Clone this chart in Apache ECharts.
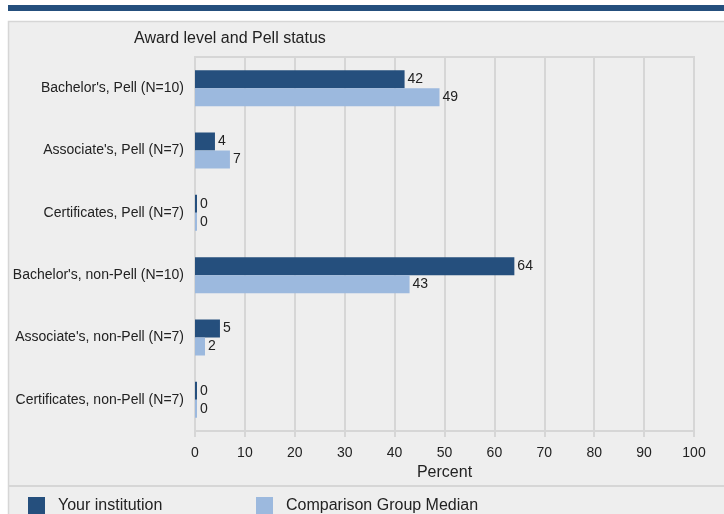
<!DOCTYPE html>
<html>
<head>
<meta charset="utf-8">
<script src="https://cdn.jsdelivr.net/npm/echarts@6/dist/echarts.min.js"></script>
<style>
html,body{margin:0;padding:0;background:#fff;}
#c{width:724px;height:514px;}
</style>
</head>
<body>
<div id="c"></div>
<script>
const categories = [
  "Bachelor's, Pell (N=10)",
  "Associate's, Pell (N=7)",
  "Certificates, Pell (N=7)",
  "Bachelor's, non-Pell (N=10)",
  "Associate's, non-Pell (N=7)",
  "Certificates, non-Pell (N=7)"
];
const yourInstitution = [42, 4, 0, 64, 5, 0];
const comparisonMedian = [49, 7, 0, 43, 2, 0];
const xTicks = [0, 10, 20, 30, 40, 50, 60, 70, 80, 90, 100];

const DARK = '#254f7d';
const LIGHT = '#9cb9de';
const FONT = '"Liberation Sans", Arial, sans-serif';
const TXT = '#222';

const chart = echarts.init(document.getElementById('c'), null, {renderer: 'canvas'});
const labelCfg = {show: true, position: 'right', distance: 3, color: TXT, fontSize: 14, fontFamily: FONT};

chart.setOption({
  backgroundColor: '#ffffff',
  animation: false,
  graphic: [
    {type: 'rect', z: -10, shape: {x: 8, y: 5, width: 716, height: 6}, style: {fill: DARK}},
    {type: 'rect', z: -10, shape: {x: 8.5, y: 21.5, width: 720, height: 500}, style: {fill: '#eeeeee', stroke: '#d6d6d6', lineWidth: 1.5}},
    {type: 'line', z: -9, shape: {x1: 8, y1: 486, x2: 724, y2: 486}, style: {stroke: '#d6d6d6', lineWidth: 2}},
    {type: 'text', left: 134, top: 31, style: {text: 'Award level and Pell status', fill: TXT, font: '16px ' + FONT}}
  ],
  legend: [
    {data: ['Your institution'], left: 23, top: 492, itemWidth: 17, itemHeight: 17, icon: 'rect',
      textStyle: {color: TXT, fontSize: 16, fontFamily: FONT, padding: [0, 0, 0, 8]}},
    {data: ['Comparison Group Median'], left: 251, top: 492, itemWidth: 17, itemHeight: 17, icon: 'rect',
      textStyle: {color: TXT, fontSize: 16, fontFamily: FONT, padding: [0, 0, 0, 8]}}
  ],
  grid: {left: 195, right: 30, top: 57, bottom: 83, show: true, borderColor: '#d6d6d6', borderWidth: 2, backgroundColor: 'transparent'},
  xAxis: {
    type: 'value', min: 0, max: 100, interval: 10,
    name: 'Percent', nameLocation: 'middle', nameGap: 33,
    nameTextStyle: {color: TXT, fontSize: 16, fontFamily: FONT},
    axisLine: {show: true, lineStyle: {color: '#d6d6d6', width: 2}},
    axisTick: {show: true, length: 6, lineStyle: {color: '#d6d6d6', width: 2}},
    splitLine: {show: true, lineStyle: {color: '#d6d6d6', width: 2}},
    axisLabel: {color: TXT, fontSize: 14, fontFamily: FONT, margin: 15,
      formatter: v => xTicks.includes(v) ? String(v) : ''}
  },
  yAxis: {
    type: 'category', data: categories, inverse: true,
    axisLine: {show: true, lineStyle: {color: '#d6d6d6', width: 2}},
    axisTick: {show: false},
    axisLabel: {color: TXT, fontSize: 14, fontFamily: FONT, margin: 11}
  },
  series: [
    {name: 'Your institution', type: 'bar', data: yourInstitution, barWidth: 18, barGap: '0%',
      barMinHeight: 2, itemStyle: {color: DARK}, label: labelCfg},
    {name: 'Comparison Group Median', type: 'bar', data: comparisonMedian, barWidth: 18, barGap: '0%',
      barMinHeight: 2, itemStyle: {color: LIGHT}, label: labelCfg}
  ]
});
</script>
</body>
</html>
